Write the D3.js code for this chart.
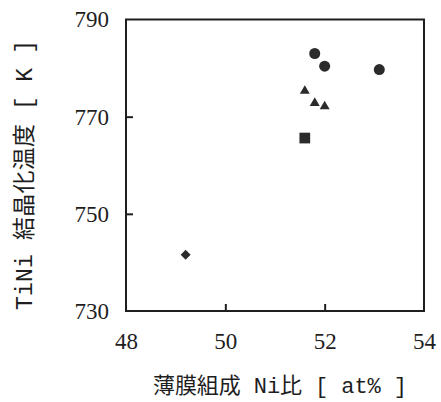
<!DOCTYPE html>
<html>
<head>
<meta charset="utf-8">
<script src="https://cdn.jsdelivr.net/npm/d3@7"></script>
<style>
  html, body { margin: 0; padding: 0; background: #fff; }
  svg { display: block; }
  .tick text { font-family: "Liberation Serif", "Times New Roman", "DejaVu Serif", serif; font-size: 23px; }
</style>
</head>
<body>
<svg id="chart" width="441" height="402"></svg>
<script>
// Crystallization temperature of TiNi films vs. Ni content, grouped by marker type
const circleX   = [51.8, 52.0, 53.1];
const circleY   = [783.0, 780.4, 779.7];
const triangleX = [51.6, 51.8, 52.0];
const triangleY = [775.3, 772.8, 772.1];
const squareX   = [51.6];
const squareY   = [765.6];
const diamondX  = [49.2];
const diamondY  = [741.6];

const xTicks = [48, 50, 52, 54];
const yTicks = [730, 750, 770, 790];
const xTitle = "薄膜組成 Ni比 [ at% ]";
const yTitle = "TiNi 結晶化温度 [ K ]";

const ink = "#1e1e1e";
const markInk = "#2b2b2b";
const numFont = "'Liberation Serif', 'Times New Roman', 'DejaVu Serif', serif";

const svg = d3.select("#chart");
const plotLeft = 126, plotRight = 424, plotTop = 19.5, plotBottom = 311;

const x = d3.scaleLinear().domain([48, 54]).range([plotLeft, plotRight]);
const y = d3.scaleLinear().domain([730, 790]).range([plotBottom, plotTop]);

// axes with short inward ticks
const xAxis = d3.axisBottom(x).tickValues(xTicks).tickFormat(d3.format("d"))
  .tickSizeInner(-7).tickSizeOuter(0).tickPadding(22);
const yAxis = d3.axisLeft(y).tickValues(yTicks).tickFormat(d3.format("d"))
  .tickSizeInner(-7).tickSizeOuter(0).tickPadding(17);

const gx = svg.append("g").attr("transform", `translate(0,${plotBottom})`).call(xAxis);
const gy = svg.append("g").attr("transform", `translate(${plotLeft},0)`).call(yAxis);

[gx, gy].forEach(g => {
  g.attr("font-family", numFont).attr("font-size", 23);
  g.select(".domain").remove();
  g.selectAll(".tick line").attr("stroke", ink).attr("stroke-width", 2);
  g.selectAll(".tick text").attr("fill", ink);
});
// ticks at the frame edges are covered by the frame itself
gx.selectAll(".tick line").filter(d => d === 48 || d === 54).remove();
gy.selectAll(".tick line").filter(d => d === 730 || d === 790).remove();

// plot frame
svg.append("rect")
  .attr("x", plotLeft).attr("y", plotTop)
  .attr("width", plotRight - plotLeft).attr("height", plotBottom - plotTop)
  .attr("fill", "none").attr("stroke", ink).attr("stroke-width", 2);

// markers
function drawSeries(xs, ys, type, size, rotate) {
  const sym = d3.symbol().type(type).size(size);
  svg.append("g").selectAll("path")
    .data(xs.map((v, i) => [v, ys[i]]))
    .join("path")
    .attr("d", sym)
    .attr("transform", d => `translate(${x(d[0])},${y(d[1])})` + (rotate ? ` rotate(${rotate})` : ""))
    .attr("fill", markInk);
}
drawSeries(circleX, circleY, d3.symbolCircle, 95);
drawSeries(triangleX, triangleY, d3.symbolTriangle, 43);
drawSeries(squareX, squareY, d3.symbolSquare, 115);
drawSeries(diamondX, diamondY, d3.symbolSquare, 50, 45);

// axis titles
const titleFont = "'Liberation Mono', 'Noto Sans CJK JP', monospace";
svg.append("text")
  .attr("x", 153).attr("y", 393)
  .attr("textLength", 254).attr("lengthAdjust", "spacing")
  .attr("fill", ink)
  .style("font-family", titleFont)
  .style("font-size", "22px")
  .text(xTitle);

svg.append("text")
  .attr("transform", "translate(32,310) rotate(-90)")
  .attr("textLength", 270).attr("lengthAdjust", "spacing")
  .attr("fill", ink)
  .style("font-family", titleFont)
  .style("font-size", "23px")
  .text(yTitle);
</script>
</body>
</html>
